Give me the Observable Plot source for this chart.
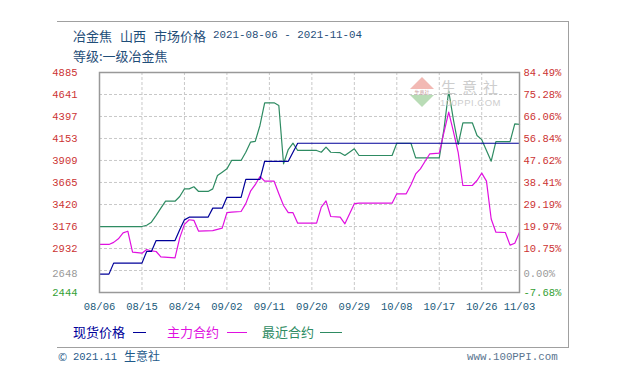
<!DOCTYPE html>
<html>
<head>
<meta charset="utf-8">
<script src="https://cdn.jsdelivr.net/npm/d3@7"></script>
<script src="https://cdn.jsdelivr.net/npm/@observablehq/plot@0.6"></script>
<style>
  body { margin: 0; background: #fff; }
  #wrap { position: relative; width: 620px; height: 390px; overflow: hidden; font-family: "Noto Sans CJK SC", sans-serif; }
  #wrap svg.plot { position: absolute; left: 0; top: 0; }
  .abs { position: absolute; white-space: nowrap; line-height: 1; }
  .hl { position: absolute; background: #a0a0a0; }
  .mono { font-family: 'Liberation Mono', monospace; }
</style>
</head>
<body>
<div id="wrap">
  <div class="hl" style="left:57px; top:21px; width:512px; height:1px;"></div>
  <div class="hl" style="left:568px; top:21px; width:1px; height:327px;"></div>
  <div class="hl" style="left:57px; top:347px; width:512px; height:1px;"></div>
  <div class="abs" style="left:73px; top:29px; font-size:13px; color:#1f4e79;">冶金焦</div>
  <div class="abs" style="left:120px; top:29px; font-size:13px; color:#1f4e79;">山西</div>
  <div class="abs" style="left:154px; top:29px; font-size:13px; color:#1f4e79;">市场价格</div>
  <div class="abs mono" style="left:213px; top:30px; font-size:10.8px; color:#1f4e79;">2021-08-06 - 2021-11-04</div>
  <div class="abs" style="left:73px; top:49px; font-size:13px; color:#1f4e79;">等级:一级冶金焦</div>
  <div id="legend"></div>
  <div class="abs" style="left:58px; top:351px; font-size:11px; color:#1f5a8a;">©</div>
  <div class="abs mono" style="left:73px; top:352px; font-size:10.5px; color:#1f5a8a;">2021.11</div>
  <div class="abs" style="left:124px; top:350px; font-size:12px; color:#1f5a8a;">生意社</div>
  <div class="abs mono" style="left:467px; top:352px; font-size:10.8px; color:#5a7590;">www.100PPI.com</div>
</div>
<script>
// ---- data ----
const yTicks = [4885, 4641, 4397, 4153, 3909, 3665, 3420, 3176, 2932];
const pctTicks = ["84.49%", "75.28%", "66.06%", "56.84%", "47.62%", "38.41%", "29.19%", "19.97%", "10.75%"];
const gridValues = [4641, 4397, 4153, 3909, 3665, 3420, 3176, 2932, 2688];
const baseValue = 2648, baseLabel = "0.00%";
const minValue = 2444, minLabel = "-7.68%";
const maxValue = 4885;
const xTickDates = ["2021-08-06","2021-08-15","2021-08-24","2021-09-02","2021-09-11","2021-09-20","2021-09-29","2021-10-08","2021-10-17","2021-10-26","2021-11-03"];
const seriesNames = ["现货价格", "主力合约", "最近合约"];
const seriesColors = ["#000099", "#e010e0", "#2e8b62"];

const spot = [["2021-08-06",2648],["2021-08-08",2648],["2021-08-09",2770],["2021-08-15",2770],["2021-08-16",2900],["2021-08-17",2900],["2021-08-18",3020],["2021-08-22",3020],["2021-08-23",3140],["2021-08-24",3250],["2021-08-25",3280],["2021-08-29",3280],["2021-08-30",3380],["2021-09-01",3380],["2021-09-02",3500],["2021-09-05",3500],["2021-09-06",3700],["2021-09-09",3700],["2021-09-10",3900],["2021-09-15",3900],["2021-09-17",4100],["2021-11-03",4100]];

const mainContract = [["2021-08-06",2977],["2021-08-08",2977],["2021-08-09",3000],["2021-08-10",3040],["2021-08-11",3105],["2021-08-12",3124],["2021-08-13",2891],["2021-08-15",2880],["2021-08-16",2921],["2021-08-17",2905],["2021-08-18",2899],["2021-08-19",2840],["2021-08-22",2829],["2021-08-23",3050],["2021-08-24",3200],["2021-08-25",3251],["2021-08-26",3245],["2021-08-27",3124],["2021-08-30",3130],["2021-09-01",3158],["2021-09-02",3330],["2021-09-03",3335],["2021-09-05",3343],["2021-09-06",3430],["2021-09-07",3568],["2021-09-08",3640],["2021-09-09",3731],["2021-09-10",3679],["2021-09-12",3679],["2021-09-13",3540],["2021-09-14",3409],["2021-09-15",3330],["2021-09-16",3330],["2021-09-17",3213],["2021-09-21",3213],["2021-09-22",3391],["2021-09-23",3460],["2021-09-24",3287],["2021-09-26",3280],["2021-09-27",3206],["2021-09-29",3430],["2021-09-30",3435],["2021-10-07",3435],["2021-10-08",3539],["2021-10-10",3539],["2021-10-11",3640],["2021-10-12",3760],["2021-10-13",3816],["2021-10-14",3900],["2021-10-15",3983],["2021-10-17",3990],["2021-10-18",4223],["2021-10-19",4445],["2021-10-20",4228],["2021-10-21",4000],["2021-10-22",3631],["2021-10-24",3631],["2021-10-25",3687],["2021-10-26",3768],["2021-10-27",3680],["2021-10-28",3260],["2021-10-29",3113],["2021-10-31",3110],["2021-11-01",2970],["2021-11-02",2991],["2021-11-03",3113]];

const nearContract = [["2021-08-06",3176],["2021-08-15",3176],["2021-08-16",3190],["2021-08-17",3224],["2021-08-18",3300],["2021-08-19",3380],["2021-08-20",3457],["2021-08-22",3457],["2021-08-23",3509],["2021-08-24",3594],["2021-08-25",3594],["2021-08-26",3617],["2021-08-27",3565],["2021-08-29",3565],["2021-08-30",3594],["2021-08-31",3742],["2021-09-01",3779],["2021-09-02",3816],["2021-09-03",3909],["2021-09-05",3909],["2021-09-06",4001],["2021-09-07",4112],["2021-09-08",4120],["2021-09-09",4297],["2021-09-10",4549],["2021-09-12",4549],["2021-09-13",4519],["2021-09-14",3872],["2021-09-15",4030],["2021-09-16",4101],["2021-09-17",4020],["2021-09-21",4020],["2021-09-22",4000],["2021-09-23",4057],["2021-09-24",4000],["2021-09-26",3995],["2021-09-27",3964],["2021-09-29",4038],["2021-09-30",3964],["2021-10-07",3964],["2021-10-08",4100],["2021-10-11",4100],["2021-10-12",3938],["2021-10-17",3938],["2021-10-18",4260],["2021-10-19",4680],["2021-10-20",4360],["2021-10-21",4086],["2021-10-22",4327],["2021-10-24",4327],["2021-10-25",4186],["2021-10-26",4140],["2021-10-28",3901],["2021-10-29",4119],["2021-11-01",4119],["2021-11-02",4316],["2021-11-03",4310]];

// ---- build ----
const parse = d3.utcParse("%Y-%m-%d");
const toRows = arr => arr.map(([d, v]) => ({date: parse(d), value: v}));
const seriesData = [toRows(nearContract), toRows(mainContract), toRows(spot)];
const seriesColorOrder = [seriesColors[2], seriesColors[1], seriesColors[0]];
const xTicks = xTickDates.map(parse);
const numFont = "'Liberation Mono', monospace";

const plot = Plot.plot({
  width: 620,
  height: 390,
  marginLeft: 99,
  marginRight: 101,
  marginTop: 72,
  marginBottom: 98,
  x: {type: "utc", domain: [parse("2021-08-06"), parse("2021-11-03")], axis: null},
  y: {domain: [minValue, maxValue], axis: null},
  marks: [
    Plot.ruleY(gridValues, {stroke: "#c8c8c8", strokeDasharray: "3,2", strokeWidth: 1}),
    Plot.ruleX(xTicks.slice(1, -1), {stroke: "#c8c8c8", strokeDasharray: "3,2", strokeWidth: 1}),
    ...seriesData.map((rows, i) => Plot.line(rows, {x: "date", y: "value", stroke: seriesColorOrder[i], strokeWidth: 1.2})),
    Plot.frame({stroke: "#999", strokeWidth: 1.5}),
    Plot.text(yTicks, {y: d => d, text: d => String(d), frameAnchor: "left", dx: -22, textAnchor: "end", fill: "#cc3333", fontSize: 10.5, fontFamily: numFont}),
    Plot.text([baseValue], {y: d => d, text: d => String(d), frameAnchor: "left", dx: -22, textAnchor: "end", fill: "#999999", fontSize: 10.5, fontFamily: numFont}),
    Plot.text([minValue], {y: d => d, text: d => String(d), frameAnchor: "left", dx: -22, textAnchor: "end", fill: "#33a033", fontSize: 10.5, fontFamily: numFont}),
    Plot.text(yTicks, {y: d => d, text: (d, i) => pctTicks[i], frameAnchor: "right", dx: 4, textAnchor: "start", fill: "#cc3333", fontSize: 10.5, fontFamily: numFont}),
    Plot.text([baseValue], {y: d => d, text: () => baseLabel, frameAnchor: "right", dx: 4, textAnchor: "start", fill: "#999999", fontSize: 10.5, fontFamily: numFont}),
    Plot.text([minValue], {y: d => d, text: () => minLabel, frameAnchor: "right", dx: 4, textAnchor: "start", fill: "#33a033", fontSize: 10.5, fontFamily: numFont}),
    Plot.text(xTicks, {x: d => d, text: d => d3.utcFormat("%m/%d")(d), frameAnchor: "bottom", dy: 17, fill: "#1a5a7a", fontSize: 10.5, fontFamily: numFont})
  ]
});
plot.classList.add("plot");
document.getElementById("wrap").appendChild(plot);

// watermark
const wm = document.createElement("div");
wm.innerHTML = `
<svg class="abs" style="position:absolute;left:409px;top:76px;" width="26" height="32">
  <polygon points="13,1 25,13 1,13" fill="#f2b9b4"/>
  <polygon points="1,19 25,19 13,31" fill="#b9dcb6"/>
  <text x="13" y="17.5" font-size="5" text-anchor="middle" fill="#c9a0a0">生意社</text>
</svg>
<div class="abs" style="left:441px; top:79px; font-size:15px; color:#cdcdcd; letter-spacing:6px;">生意社</div>
<div class="abs" style="left:440px; top:98px; font-size:9.5px; color:#cdcdcd; font-family:'Liberation Sans',sans-serif; letter-spacing:0.5px;">100PPI.COM</div>`;
document.getElementById("wrap").appendChild(wm);

// legend
const lg = document.getElementById("legend");
const legendX = [[73, 133, 146], [167, 227, 247], [262, 320, 342]];
seriesNames.forEach((name, i) => {
  const t = document.createElement("div");
  t.className = "abs";
  t.style.cssText = `left:${legendX[i][0]}px; top:325px; font-size:13px; color:${seriesColors[i]};`;
  t.textContent = name;
  lg.appendChild(t);
  const l = document.createElement("div");
  l.className = "hl";
  l.style.cssText = `left:${legendX[i][1]}px; top:332px; width:${legendX[i][2] - legendX[i][1]}px; height:1px; background:${seriesColors[i]};`;
  lg.appendChild(l);
});
</script>
</body>
</html>
